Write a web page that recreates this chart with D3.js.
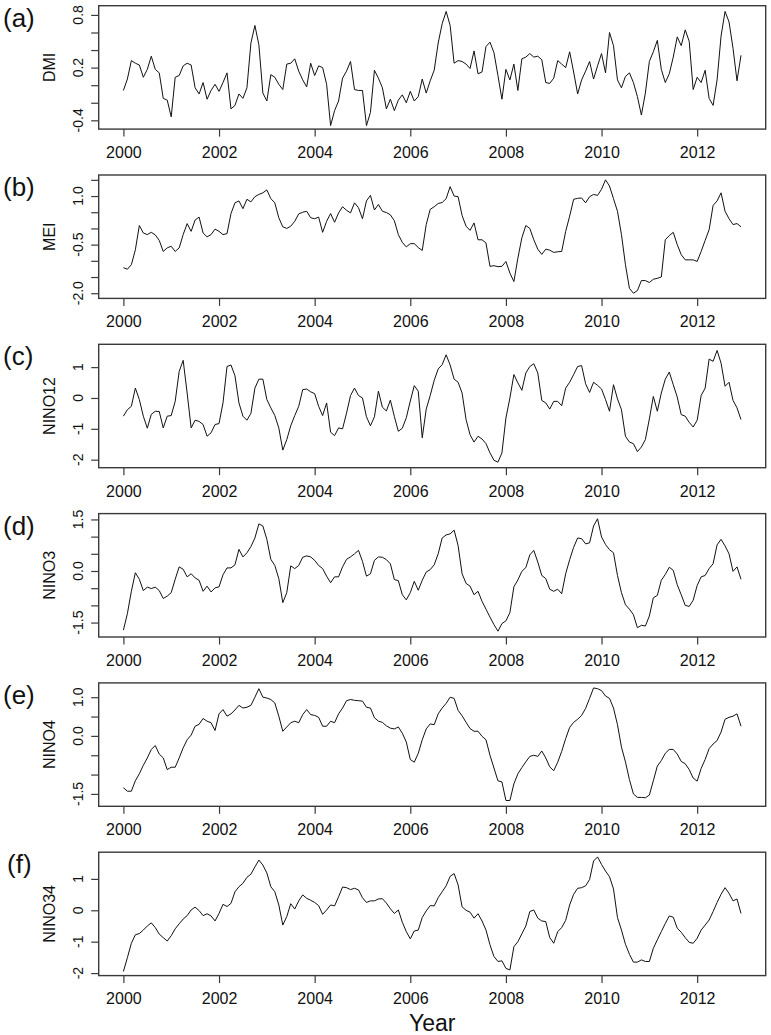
<!DOCTYPE html>
<html><head><meta charset="utf-8">
<script src="https://cdn.jsdelivr.net/npm/d3@7"></script>
<style>body{margin:0;background:#fff} svg{display:block}</style>
</head><body><svg id="c" width="771" height="1035"></svg>
<script>
const panelLetters = ["(a)","(b)","(c)","(d)","(e)","(f)"];
const seriesNames = ["DMI","MEI","NINO12","NINO3","NINO4","NINO34"];
const startYear = 2000;
const xTicks = [2000,2002,2004,2006,2008,2010,2012];

const DMI = [-0.06,0.07,0.28,0.25,0.23,0.09,0.18,0.33,0.18,0.14,
-0.15,-0.17,-0.36,0.09,0.11,0.22,0.25,0.23,-0.03,-0.10,
0.03,-0.16,-0.06,0.01,-0.07,0.03,0.14,-0.27,-0.23,-0.10,
-0.15,-0.03,0.48,0.68,0.46,-0.09,-0.18,0.12,0.09,0.01,
-0.05,0.24,0.25,0.30,0.16,0.06,-0.02,0.25,0.11,0.22,
0.20,0.01,-0.46,-0.29,-0.18,0.08,0.16,0.27,-0.05,-0.06,
-0.06,-0.46,-0.31,0.17,0.08,-0.03,-0.27,-0.16,-0.29,-0.17,
-0.11,-0.20,-0.07,-0.18,-0.13,0.07,-0.09,0.05,0.17,0.48,
0.70,0.84,0.68,0.25,0.28,0.27,0.24,0.19,0.39,0.13,
0.15,0.44,0.49,0.37,0.11,-0.16,0.18,0.06,0.24,-0.06,
0.30,0.32,0.36,0.32,0.33,0.29,0.03,0.02,0.08,0.28,
0.24,0.20,0.38,0.15,-0.10,0.06,0.16,0.27,0.07,0.22,
0.36,0.14,0.60,0.45,0.06,-0.03,0.10,0.14,0.03,-0.13,
-0.34,-0.09,0.27,0.38,0.51,0.18,0.03,0.13,0.32,0.55,
0.45,0.63,0.50,-0.05,0.09,0.03,0.17,-0.15,-0.23,0.06,
0.56,0.84,0.72,0.42,0.05,0.34];

const MEI = [-1.21,-1.26,-1.12,-0.66,0.09,-0.14,-0.19,-0.12,-0.20,-0.37,
-0.71,-0.60,-0.55,-0.71,-0.60,-0.19,0.15,-0.09,0.26,0.35,
-0.14,-0.26,-0.19,-0.02,-0.09,-0.19,-0.16,0.46,0.79,0.85,
0.61,0.90,0.82,0.98,1.05,1.10,1.19,0.92,0.79,0.33,
0.05,0.00,0.07,0.22,0.45,0.50,0.53,0.33,0.30,0.35,
-0.12,0.22,0.46,0.19,0.48,0.67,0.56,0.48,0.79,0.64,
0.30,0.85,1.02,0.57,0.74,0.53,0.49,0.42,0.24,-0.19,
-0.43,-0.57,-0.47,-0.47,-0.59,-0.68,0.12,0.59,0.67,0.77,
0.80,0.92,1.29,1.00,0.98,0.40,0.07,-0.06,0.17,-0.35,
-0.35,-0.45,-1.17,-1.15,-1.18,-1.17,-1.02,-1.38,-1.64,-0.92,
-0.29,0.09,0.00,-0.35,-0.64,-0.80,-0.64,-0.67,-0.74,-0.72,
-0.71,-0.09,0.38,0.90,0.93,0.94,0.79,0.98,1.05,1.02,
1.21,1.50,1.31,0.92,0.53,-0.19,-1.12,-1.85,-2.00,-1.92,
-1.61,-1.61,-1.67,-1.57,-1.54,-1.50,-0.35,-0.22,-0.12,-0.50,
-0.81,-0.97,-0.97,-0.97,-1.02,-0.71,-0.37,-0.04,0.71,0.85,
1.10,0.53,0.30,0.12,0.15,0.05];

const NINO12 = [-0.59,-0.38,-0.27,0.32,-0.05,-0.59,-0.98,-0.53,-0.43,-0.44,
-0.97,-0.59,-0.57,-0.11,0.86,1.22,0.16,-0.97,-0.72,-0.76,
-0.86,-1.24,-1.13,-0.86,-0.83,-0.16,1.02,1.07,0.72,-0.16,
-0.59,-0.72,-0.50,0.32,0.61,0.61,-0.05,-0.32,-0.57,-0.97,
-1.69,-1.35,-0.90,-0.57,-0.27,0.27,0.29,0.20,0.14,-0.27,
-0.57,-0.16,-1.11,-1.22,-0.97,-1.00,-0.49,0.08,0.32,0.08,
0.00,-0.61,-0.90,-0.61,0.22,-0.30,-0.42,-0.07,-0.60,-1.08,
-0.98,-0.64,-0.10,0.40,0.22,-1.29,-0.36,0.08,0.57,0.94,
1.08,1.40,1.07,0.61,0.51,0.16,-0.70,-1.19,-1.43,-1.24,
-1.33,-1.48,-1.78,-2.02,-2.08,-1.78,-0.65,0.00,0.76,0.49,
0.25,0.81,1.02,1.11,0.81,-0.08,-0.16,-0.36,-0.11,-0.11,
-0.25,0.32,0.51,0.76,1.02,1.05,0.46,0.18,0.51,0.41,
0.29,-0.05,-0.43,0.43,-0.03,-0.38,-1.24,-1.43,-1.48,-1.74,
-1.59,-1.35,-0.68,0.05,-0.43,0.16,0.61,0.84,0.43,0.03,
-0.54,-0.59,-0.79,-0.94,-0.72,0.08,0.32,1.26,1.19,1.54,
1.13,0.38,0.51,-0.08,-0.32,-0.70];

const NINO3 = [-1.72,-1.24,-0.59,-0.05,-0.24,-0.57,-0.47,-0.51,-0.47,-0.57,
-0.80,-0.73,-0.63,-0.24,0.12,0.05,-0.17,-0.08,-0.20,-0.27,
-0.59,-0.44,-0.61,-0.49,-0.46,-0.11,0.09,0.09,0.18,0.63,
0.41,0.53,0.71,0.96,1.37,1.31,0.92,0.34,0.16,-0.22,
-0.92,-0.63,0.15,0.07,0.16,0.40,0.44,0.41,0.31,0.16,
0.07,-0.15,-0.34,-0.17,-0.17,0.12,0.34,0.41,0.50,0.60,
0.28,-0.15,-0.08,0.31,0.41,0.40,0.33,0.21,-0.25,-0.28,
-0.69,-0.84,-0.63,-0.30,-0.56,-0.27,-0.03,0.04,0.18,0.50,
0.96,1.05,1.08,1.19,0.74,-0.08,-0.36,-0.44,-0.69,-0.59,
-0.88,-1.11,-1.34,-1.56,-1.75,-1.53,-1.45,-1.21,-0.46,-0.26,
-0.01,0.10,0.47,0.60,0.26,-0.13,-0.22,-0.53,-0.59,-0.53,
-0.66,-0.08,0.33,0.69,0.96,0.94,0.79,0.82,1.31,1.52,
0.99,0.77,0.62,0.53,-0.13,-0.63,-0.98,-1.11,-1.27,-1.65,
-1.58,-1.60,-1.31,-0.78,-0.71,-0.27,-0.10,0.11,0.02,-0.40,
-0.69,-1.00,-1.03,-0.85,-0.42,-0.17,-0.13,0.07,0.21,0.76,
0.92,0.73,0.50,-0.01,0.12,-0.24];

const NINO4 = [-1.34,-1.43,-1.43,-1.16,-0.98,-0.76,-0.57,-0.35,-0.25,-0.47,
-0.57,-0.87,-0.81,-0.81,-0.57,-0.31,-0.10,0.02,0.25,0.30,
0.45,0.38,0.34,0.14,0.57,0.68,0.51,0.57,0.67,0.79,
0.72,0.74,0.79,1.00,1.22,1.00,0.98,0.94,0.85,0.51,
0.12,0.23,0.34,0.38,0.34,0.55,0.68,0.55,0.53,0.48,
0.25,0.25,0.38,0.34,0.57,0.72,0.91,0.94,0.92,0.91,
0.90,0.74,0.72,0.47,0.38,0.35,0.26,0.20,0.18,0.23,
0.07,-0.16,-0.61,-0.68,-0.45,-0.10,0.18,0.31,0.29,0.57,
0.72,0.84,1.00,0.97,0.66,0.52,0.35,0.19,0.12,0.12,
-0.01,-0.10,-0.50,-0.83,-1.16,-1.19,-1.67,-1.67,-1.24,-0.98,
-0.82,-0.67,-0.53,-0.50,-0.53,-0.39,-0.57,-0.80,-0.90,-0.68,
-0.40,-0.07,0.22,0.35,0.43,0.53,0.71,0.97,1.24,1.22,
1.17,1.03,0.97,0.72,0.29,-0.29,-0.67,-1.13,-1.50,-1.59,
-1.59,-1.60,-1.53,-1.16,-0.78,-0.64,-0.45,-0.35,-0.35,-0.47,
-0.66,-0.72,-0.87,-1.09,-1.17,-0.84,-0.61,-0.33,-0.21,-0.12,
0.10,0.43,0.48,0.51,0.57,0.25];

const NINO34 = [-1.95,-1.51,-1.05,-0.78,-0.74,-0.63,-0.50,-0.40,-0.55,-0.76,
-0.87,-0.98,-0.81,-0.59,-0.43,-0.28,-0.17,0.01,0.10,-0.01,
-0.17,-0.11,-0.18,-0.34,-0.10,0.19,0.12,0.22,0.59,0.75,
0.86,1.05,1.15,1.38,1.60,1.44,1.19,0.75,0.59,0.17,
-0.47,-0.20,0.21,0.04,0.30,0.49,0.38,0.32,0.25,0.15,
-0.13,0.01,0.17,0.14,0.43,0.74,0.72,0.66,0.70,0.65,
0.40,0.25,0.30,0.30,0.36,0.37,0.23,0.05,-0.10,0.01,
-0.38,-0.68,-0.91,-0.66,-0.63,-0.23,-0.02,0.15,0.14,0.40,
0.59,0.78,1.08,1.17,0.81,0.11,0.00,-0.06,-0.25,-0.11,
-0.34,-0.63,-1.10,-1.47,-1.63,-1.61,-1.85,-1.90,-1.16,-1.00,
-0.75,-0.50,-0.04,0.01,-0.25,-0.34,-0.36,-0.87,-1.05,-0.68,
-0.55,-0.32,0.17,0.51,0.70,0.72,0.78,0.98,1.57,1.70,
1.46,1.25,1.07,0.68,-0.23,-0.63,-1.08,-1.40,-1.65,-1.65,
-1.58,-1.63,-1.63,-1.21,-0.94,-0.68,-0.42,-0.18,-0.22,-0.57,
-0.70,-0.87,-1.02,-1.05,-0.89,-0.63,-0.47,-0.31,-0.04,0.25,
0.51,0.72,0.54,0.30,0.36,-0.10];

const allSeries = [DMI, MEI, NINO12, NINO3, NINO4, NINO34];

// y-axis settings per panel
const yLimits = [[-0.50,0.905],[-2.16,1.65],[-2.26,1.74],[-1.92,1.67],[-1.82,1.37],[-2.08,1.85]];
const yTicks = [
  [-0.4,-0.2,0,0.2,0.4,0.6,0.8],
  [-2.0,-1.5,-1.0,-0.5,0,0.5,1.0,1.5],
  [-2,-1,0,1],
  [-1.5,-1.0,-0.5,0,0.5,1.0,1.5],
  [-1.5,-1.0,-0.5,0,0.5,1.0],
  [-2,-1,0,1]
];
const yTickLabels = [
  {"0.8":"0.8","0.2":"0.2","-0.4":"-0.4"},
  {"1":"1.0","-0.5":"-0.5","-2":"-2.0"},
  {"1":"1","0":"0","-1":"-1","-2":"-2"},
  {"1.5":"1.5","0":"0.0","-1.5":"-1.5"},
  {"1":"1.0","0":"0.0","-1.5":"-1.5"},
  {"1":"1","0":"0","-1":"-1","-2":"-2"}
];

const FONT = "'Liberation Sans', Arial, sans-serif";
const svg = d3.select("#c");
const boxL = 98.7, boxR = 765.7, boxH = 123.4, firstTop = 5.7, step = 169.3;

const nMonths = DMI.length;
const tStart = startYear, tEnd = startYear + (nMonths - 1) / 12;
const ext = (tEnd - tStart) * 0.04;
const x = d3.scaleLinear().domain([tStart - ext, tEnd + ext]).range([boxL, boxR]);

allSeries.forEach((vals, p) => {
  const top = firstTop + p * step;
  const g = svg.append("g").attr("transform", `translate(0,${top})`);
  const y = d3.scaleLinear().domain(yLimits[p]).range([boxH, 0]);

  // line
  const line = d3.line().x((d, i) => x(startYear + i / 12)).y(d => y(d));
  g.append("path").datum(vals).attr("d", line)
    .attr("fill", "none").attr("stroke", "#111").attr("stroke-width", 1)
    .attr("stroke-linejoin", "round");

  // box
  g.append("rect").attr("x", boxL).attr("y", 0).attr("width", boxR - boxL).attr("height", boxH)
    .attr("fill", "none").attr("stroke", "#3a3a3a").attr("stroke-width", 1.4);

  // x axis
  const xa = g.append("g").attr("transform", `translate(0,${boxH})`)
    .call(d3.axisBottom(x).tickValues(xTicks).tickFormat(d3.format("d")).tickSize(7.5).tickSizeOuter(0).tickPadding(10));
  xa.select(".domain").remove();
  xa.selectAll("line").attr("stroke", "#3a3a3a").attr("stroke-width", 1.2);
  xa.selectAll("text").attr("font-family", FONT).attr("font-size", 16).attr("fill", "#111");

  // y axis ticks
  const ya = g.append("g").attr("transform", `translate(${boxL},0)`)
    .call(d3.axisLeft(y).tickValues(yTicks[p]).tickFormat("").tickSize(7.5).tickSizeOuter(0));
  ya.select(".domain").remove();
  ya.selectAll("line").attr("stroke", "#3a3a3a").attr("stroke-width", 1.2);

  // rotated y tick labels
  yTicks[p].forEach(t => {
    const key = String(+t.toFixed(2));
    const lab = yTickLabels[p][key];
    if (lab === undefined) return;
    g.append("text").attr("transform", `translate(82.5,${y(t)}) rotate(-90)`)
      .attr("text-anchor", "middle").attr("font-family", FONT).attr("font-size", 14)
      .attr("fill", "#111").text(lab);
  });

  // y axis title
  g.append("text").attr("transform", `translate(55,${boxH / 2}) rotate(-90)`)
    .attr("text-anchor", "middle").attr("font-family", FONT).attr("font-size", 16)
    .attr("fill", "#111").text(seriesNames[p]);

  // panel letter
  g.append("text").attr("x", p === 5 ? 7 : 3).attr("y", 21)
    .attr("font-family", FONT).attr("font-size", 26).attr("fill", "#111").text(panelLetters[p]);
});

svg.append("text").attr("x", (boxL + boxR) / 2).attr("y", 1031)
  .attr("text-anchor", "middle").attr("font-family", FONT).attr("font-size", 23)
  .attr("fill", "#111").text("Year");
</script></body></html>
